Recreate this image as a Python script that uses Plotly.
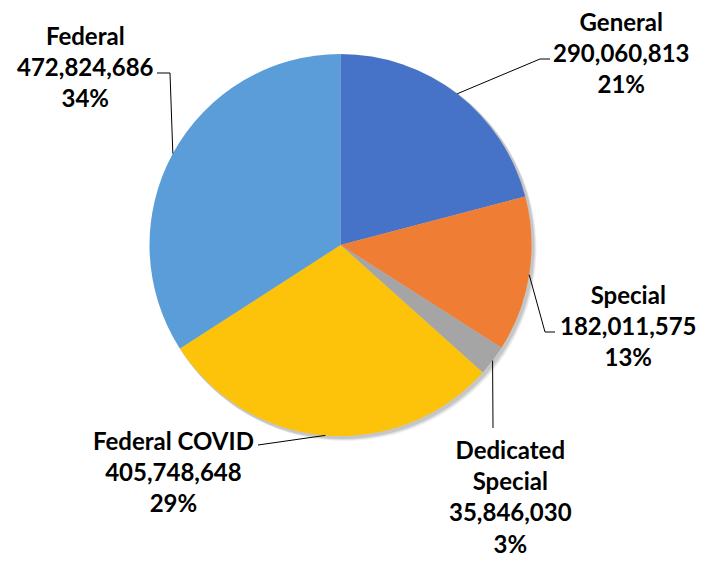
import math
import plotly.graph_objects as go

# ---- data ----
categories = ["General", "Special", "Dedicated Special", "Federal COVID", "Federal"]
label_text = ["General", "Special", "Dedicated<br>Special", "Federal COVID", "Federal"]
values = [290060813, 182011575, 35846030, 405748648, 472824686]
colors = ["#4673C8", "#EF7E34", "#A5A5A5", "#FCC30A", "#5A9DD8"]

# ---- layout constants (page pixels) ----
W, H = 708, 561
OFF = 8  # default body margin of the html page
CX, CY, R = 340.5, 245, 191
# label text centers and leader-line elbow points (page pixels)
label_pos = [(621, 53), (628, 325), (510, 496), (173, 471), (85, 66)]
elbows = [
    [(540, 59), (550, 59)],
    [(545, 332), (555, 332)],
    [(493, 428)],
    [(258, 445)],
    [(170, 73), (157, 73)],
]

def px(x):
    return (x - OFF) / W

def py(y):
    return 1 - (y - OFF) / H

fig = go.Figure()
fig.add_trace(go.Pie(
    labels=categories,
    values=values,
    sort=False,
    direction="clockwise",
    rotation=0,
    marker=dict(colors=colors, line=dict(width=0)),
    textinfo="none",
    hoverinfo="label+value+percent",
    showlegend=False,
    domain=dict(x=[px(CX - R), px(CX + R)], y=[py(CY + R), py(CY - R)]),
))

total = sum(values)
shapes = []
# soft shadow
for off, op in [(4, 0.06), (3, 0.08), (2, 0.10)]:
    shapes.append(dict(type="circle", xref="paper", yref="paper", layer="below",
                       x0=px(CX - R + off - 1), x1=px(CX + R + off + 1),
                       y0=py(CY + R + off + 1), y1=py(CY - R + off - 1),
                       fillcolor="rgba(0,0,0,%.2f)" % op, line=dict(width=0)))

annotations = []
cum = 0
for i, v in enumerate(values):
    frac = v / total
    mid = (cum + frac / 2) * 2 * math.pi
    cum += frac
    ex = CX + R * math.sin(mid)
    ey = CY - R * math.cos(mid)
    pts = [(ex, ey)] + elbows[i]
    for (x0, y0), (x1, y1) in zip(pts[:-1], pts[1:]):
        shapes.append(dict(type="line", xref="paper", yref="paper",
                           x0=px(x0), y0=py(y0), x1=px(x1), y1=py(y1),
                           line=dict(color="#000000", width=1)))
    pct = round(frac * 100)
    txt = "<b>%s<br>%s<br>%d%%</b>" % (label_text[i], f"{v:,}", pct)
    lx, ly = label_pos[i]
    annotations.append(dict(x=px(lx), y=py(ly), xref="paper", yref="paper",
                            text=txt, showarrow=False, xanchor="center",
                            yanchor="middle", align="center",
                            font=dict(family="Lato", size=24, color="#000000")))

fig.update_layout(
    width=W, height=H,
    margin=dict(l=0, r=0, t=0, b=0),
    paper_bgcolor="white",
    plot_bgcolor="white",
    shapes=shapes,
    annotations=annotations,
)

fig.write_html("out.html")
